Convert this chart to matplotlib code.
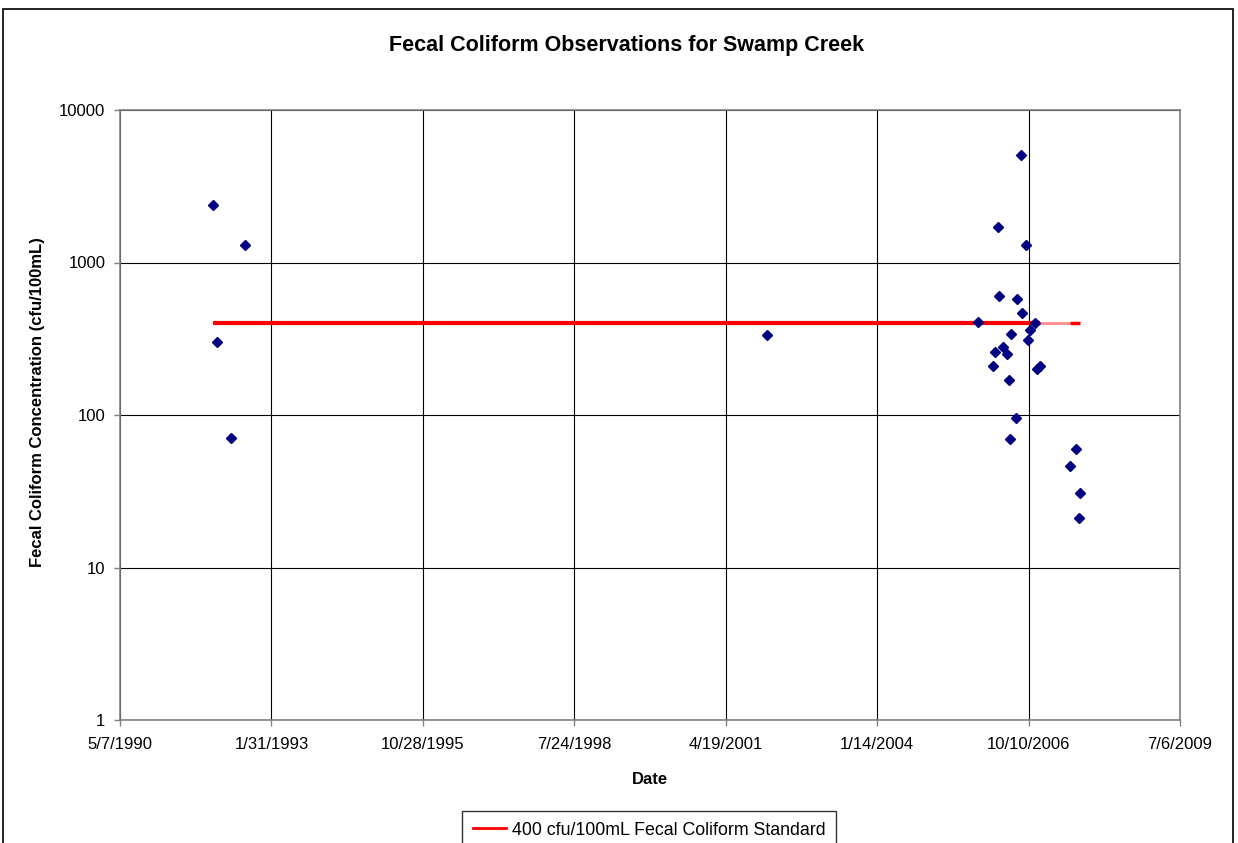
import datetime as dt
import matplotlib
matplotlib.use("Agg")
import matplotlib.pyplot as plt
from matplotlib.patches import Rectangle
from matplotlib.lines import Line2D

plt.rcParams['font.family'] = ['Liberation Sans', 'DejaVu Sans']

# observation dates and fecal coliform values (cfu/100mL)
dates = ["1992-01-09", "1992-02-09", "1992-05-07", "1992-08-09", "2002-01-15",
         "2005-11-12", "2006-02-19", "2006-03-02", "2006-03-20", "2006-03-29",
         "2006-04-24", "2006-05-20", "2006-06-01", "2006-06-07", "2006-06-16",
         "2006-07-17", "2006-07-24", "2006-08-19", "2006-08-27", "2006-09-25",
         "2006-10-06", "2006-10-21", "2006-11-19", "2006-12-03", "2006-12-24",
         "2007-07-13", "2007-08-17", "2007-09-06", "2007-09-15"]
values = [2400, 300, 71, 1300, 336,
          410, 210, 260, 1700, 600,
          280, 250, 170, 70, 340,
          95, 580, 5100, 470, 1300,
          310, 360, 400, 200, 210,
          46, 60, 21, 31]
# standard line (400 cfu/100mL) evaluated on the observation dates
std_value = 400
std_label = "400 cfu/100mL Fecal Coliform Standard"

# x-axis tick dates (Excel major unit 1000 days)
tick_dates = ["1990-05-07", "1993-01-31", "1995-10-28", "1998-07-24",
              "2001-04-19", "2004-01-14", "2006-10-10", "2009-07-06"]
y_ticks = [1, 10, 100, 1000, 10000]

to_d = lambda s: dt.datetime.strptime(s, "%Y-%m-%d")
xd = [to_d(s) for s in dates]
td = [to_d(s) for s in tick_dates]

fig = plt.figure(figsize=(12.38, 8.43), dpi=100)
ax = fig.add_axes([120/1238, 1-720/843, 1060/1238, 610/843])

# standard line: solid through Dec 2006, faint segment across the 2007 gap
ax.plot(xd[:25], [std_value]*25, color='#ff0000', lw=3,
        solid_capstyle='butt', zorder=3)
ax.plot(xd[24:26], [std_value]*2, color='#ff0000', lw=2, alpha=0.45,
        solid_capstyle='butt', zorder=3)
ax.plot(xd[25:], [std_value]*4, color='#ff0000', lw=2.5,
        solid_capstyle='butt', zorder=3)
ax.plot(xd, values, linestyle='none', marker='D', markersize=5.5,
        color='#000080', markeredgecolor='#000080', zorder=4)

ax.set_yscale('log')
ax.set_ylim(1, 10000)
ax.set_yticks(y_ticks)
ax.set_yticklabels([str(v) for v in y_ticks])
ax.yaxis.set_minor_locator(matplotlib.ticker.NullLocator())
ax.set_xlim(td[0], td[-1])
ax.set_xticks(td)
ax.set_xticklabels([f"{d.month}/{d.day}/{d.year}" for d in td])

ax.grid(True, which='major', color='black', lw=0.8)
ax.set_axisbelow(True)
for s in ax.spines.values():
    s.set_color('#808080')
    s.set_linewidth(1.2)
ax.tick_params(axis='both', labelsize=12, length=4.5, color='#808080', width=1)
ax.tick_params(axis='y', pad=6)
ax.tick_params(axis='x', pad=8)

fig.text(650/1238, 1-780/843, "Date", ha='center', va='center',
         fontsize=12, fontweight='bold')
fig.text(38/1238, 1-402/843, "Fecal Coliform Concentration (cfu/100mL)",
         ha='center', va='center', rotation=90, fontsize=12, fontweight='bold')
fig.text(627/1238, 1-46/843, "Fecal Coliform Observations for Swamp Creek",
         ha='center', va='center', fontsize=15.5, fontweight='bold')

handle = Line2D([], [], color='#ff0000', lw=2)
leg = fig.legend([handle], [std_label], loc='upper center',
                 bbox_to_anchor=(649/1238, 1-811/843),
                 fontsize=12.8, frameon=True, fancybox=False, edgecolor='black',
                 handlelength=1.9, handletextpad=0.3, borderpad=0.6,
                 borderaxespad=0)
leg.get_frame().set_linewidth(1.0)

fig.patches.append(Rectangle((3/1238, -0.01), 1230/1238, 1-9/843+0.01,
                             transform=fig.transFigure, fill=False,
                             edgecolor='black', lw=1.2))

fig.savefig("out.png", dpi=100)
